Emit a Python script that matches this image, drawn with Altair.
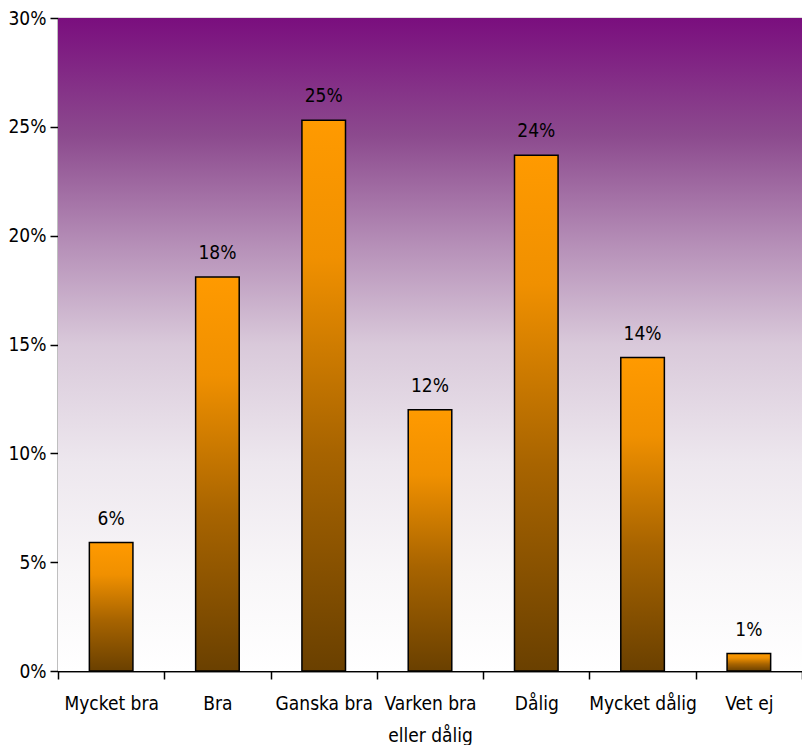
import altair as alt
import pandas as pd

categories = ["Mycket bra", "Bra", "Ganska bra", "Varken bra\neller dålig", "Dålig", "Mycket dålig", "Vet ej"]
values = [0.059, 0.181, 0.253, 0.120, 0.237, 0.144, 0.008]
y_ticks = [0, 0.05, 0.10, 0.15, 0.20, 0.25, 0.30]

df = pd.DataFrame({"cat": categories, "val": values})

FONT = "DejaVu Sans Condensed"
W, H = 744, 653

bg_grad = alt.Gradient(
    gradient="linear", x1=0, y1=0, x2=0, y2=1,
    stops=[
        alt.GradientStop(offset=0.0, color="#7A0E7E"),
        alt.GradientStop(offset=0.18, color="#8C4A8E"),
        alt.GradientStop(offset=0.35, color="#B690B8"),
        alt.GradientStop(offset=0.5, color="#D9C9DA"),
        alt.GradientStop(offset=0.68, color="#EDE7EE"),
        alt.GradientStop(offset=0.85, color="#F8F6F8"),
        alt.GradientStop(offset=1.0, color="#FFFFFF"),
    ],
)

bar_grad = alt.Gradient(
    gradient="linear", x1=0, y1=0, x2=0, y2=1,
    stops=[
        alt.GradientStop(offset=0.0, color="#FF9A00"),
        alt.GradientStop(offset=0.25, color="#F09000"),
        alt.GradientStop(offset=0.6, color="#A86400"),
        alt.GradientStop(offset=1.0, color="#6A4000"),
    ],
)

bg = alt.Chart(df).mark_rect(color=bg_grad).encode(
    x=alt.value(0), x2=alt.value(W), y=alt.value(0), y2=alt.value(H)
)

x_enc = alt.X("cat:N", sort=categories, title=None,
              scale=alt.Scale(paddingInner=0, paddingOuter=0),
              axis=alt.Axis(labelExpr="split(datum.label, '\\n')", labelAngle=0,
                            tickBand="extent", tickSize=8, tickColor="black",
                            domainColor="black", domainWidth=1.5, tickWidth=1.5,
                            labelPadding=15, labelFontSize=19, labelFont=FONT,
                            labelColor="black", labelLineHeight=32))
y_enc = alt.Y("val:Q", title=None,
              scale=alt.Scale(domain=[0, 0.30], nice=False),
              axis=alt.Axis(values=y_ticks, format=".0%", grid=True,
                            gridColor={"condition": {"test": "datum.value >= 0.3", "value": "#808080"}, "value": "black"},
                            gridWidth=1.5, tickSize=8, tickColor="black", tickWidth=1.5,
                            domainColor="black", domainWidth=1.5,
                            labelFontSize=19, labelFont=FONT, labelColor="black",
                            labelPadding=4))

bars = alt.Chart(df).mark_bar(color=bar_grad, stroke="black", strokeWidth=1.5,
                              width=alt.RelativeBandSize(0.41)).encode(x=x_enc, y=y_enc)

labels = alt.Chart(df).mark_text(baseline="bottom", dy=-14, fontSize=19, font=FONT, color="black").encode(
    x=alt.X("cat:N", sort=categories), y="val:Q", text=alt.Text("val:Q", format=".0%")
)

chart = alt.layer(bg, bars, labels).properties(
    width=W, height=H, autosize=alt.AutoSizeParams(type="none"),
    padding={"left": 50, "top": 10, "right": 0, "bottom": 74}
).configure_view(stroke=None)

chart.save("out.html", embed_options={"renderer": "svg", "actions": False})
